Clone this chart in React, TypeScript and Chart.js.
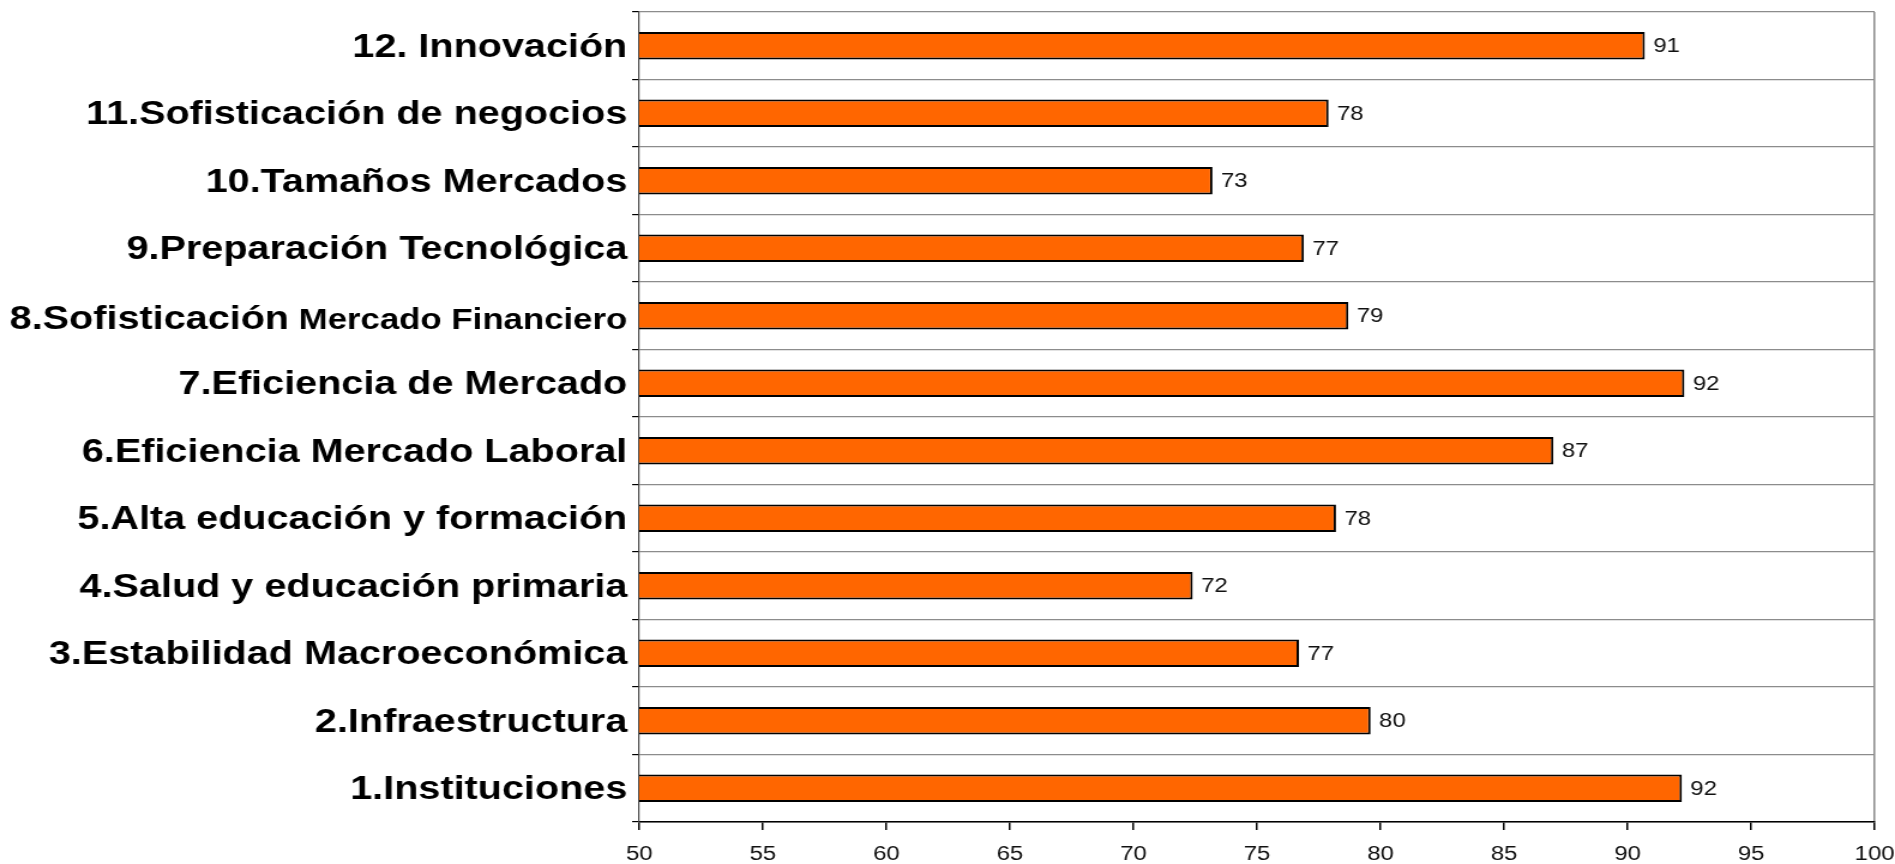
import React, { useEffect, useRef } from "react";
import { Chart, registerables } from "chart.js";

Chart.register(...registerables);

// ---- data ----
const categories = [
  "12. Innovación",
  "11.Sofisticación de negocios",
  "10.Tamaños Mercados",
  "9.Preparación Tecnológica",
  "8.Sofisticación Mercado Financiero",
  "7.Eficiencia de Mercado",
  "6.Eficiencia Mercado Laboral",
  "5.Alta educación y formación",
  "4.Salud y educación primaria",
  "3.Estabilidad Macroeconómica",
  "2.Infraestructura",
  "1.Instituciones",
];
const values = [90.7, 77.9, 73.2, 76.9, 78.7, 92.3, 87.0, 78.2, 72.4, 76.7, 79.6, 92.2];
const valueLabels = ["91", "78", "73", "77", "79", "92", "87", "78", "72", "77", "80", "92"];
const splitLabelIndex = 4;
const splitLabelParts = ["8.Sofisticación", " Mercado Financiero"];
const xMin = 50;
const xMax = 100;
const xStep = 5;

// ---- layout / style ----
const FONT = '"Liberation Sans", Arial, Helvetica, sans-serif';
const LOGICAL_W = 1580;
const CSS_W = 1895;
const H = 864;
const Y_TICK_LEN = 6;
const Y_TICK_PAD = 4;
const Y_LABEL_OFFSET = 2;
const Y_FONT_SIZE = 33;
const Y_SUB_FONT_SIZE = 29;

const valueLabelPlugin = {
  id: "valueLabels",
  afterDatasetsDraw(chart: any) {
    const ctx = chart.ctx;
    const meta = chart.getDatasetMeta(0);
    ctx.save();
    ctx.font = `20px ${FONT}`;
    ctx.fillStyle = "#111";
    ctx.textAlign = "left";
    ctx.textBaseline = "middle";
    meta.data.forEach((el: any, i: number) => {
      ctx.fillText(valueLabels[i], el.x + 7, el.y + 1);
    });
    ctx.restore();
  },
};

const splitLabelPlugin = {
  id: "splitLabel",
  afterDraw(chart: any) {
    const scale = chart.scales.y;
    const ctx = chart.ctx;
    const xRight = scale.right - Y_TICK_LEN - Y_TICK_PAD;
    const y = scale.getPixelForTick(splitLabelIndex) + Y_LABEL_OFFSET;
    const base = y + 0.3465 * Y_FONT_SIZE;
    ctx.save();
    ctx.fillStyle = "#000";
    ctx.textBaseline = "alphabetic";
    ctx.textAlign = "right";
    ctx.font = `bold ${Y_SUB_FONT_SIZE}px ${FONT}`;
    ctx.fillText(splitLabelParts[1], xRight, base);
    const w = ctx.measureText(splitLabelParts[1]).width;
    ctx.font = `bold ${Y_FONT_SIZE}px ${FONT}`;
    ctx.fillText(splitLabelParts[0], xRight - w, base);
    ctx.restore();
  },
};

export default function App() {
  const ref = useRef<HTMLCanvasElement>(null);

  useEffect(() => {
    if (!ref.current) return;
    const chart = new Chart(ref.current, {
      type: "bar",
      data: {
        labels: categories,
        datasets: [
          {
            data: values,
            backgroundColor: "#FF6600",
            borderColor: "#000",
            borderWidth: 2,
            borderSkipped: false,
            barPercentage: 0.41,
            categoryPercentage: 1,
          },
        ],
      },
      options: {
        indexAxis: "y",
        responsive: false,
        animation: false,
        devicePixelRatio: 1,
        layout: { padding: { top: 12, right: 17, bottom: 0, left: 0 } },
        plugins: {
          legend: { display: false },
          tooltip: { enabled: false },
          title: { display: false },
        },
        scales: {
          x: {
            type: "linear",
            min: xMin,
            max: xMax,
            ticks: {
              stepSize: xStep,
              color: "#111",
              font: { family: FONT, size: 20 },
              padding: 12,
              maxRotation: 0,
              autoSkip: false,
            },
            grid: {
              color: (c: any) => (c.tick && c.tick.value === xMax ? "#8c8c8c" : "rgba(0,0,0,0)"),
              lineWidth: 1.5,
              tickColor: "#000",
              tickLength: 8,
              drawTicks: true,
            },
            border: { color: "#000", width: 1.5 },
            afterFit: (s: any) => {
              s.height = 42;
              s.paddingLeft = 0;
              s.paddingRight = 0;
            },
          },
          y: {
            type: "category",
            offset: true,
            ticks: {
              color: "#000",
              font: { family: FONT, size: Y_FONT_SIZE, weight: "bold" },
              padding: Y_TICK_PAD,
              labelOffset: Y_LABEL_OFFSET,
              autoSkip: false,
              callback: (_v: any, i: number) => (i === splitLabelIndex ? "" : categories[i]),
            },
            grid: {
              offset: true,
              color: "#8c8c8c",
              lineWidth: 1.2,
              tickColor: "#000",
              tickLength: Y_TICK_LEN,
            },
            border: { color: "#444", width: 1.2 },
            afterFit: (s: any) => {
              s.width = 533;
              s.paddingTop = 0;
              s.paddingBottom = 0;
            },
          },
        },
      } as any,
      plugins: [valueLabelPlugin, splitLabelPlugin],
    });
    return () => chart.destroy();
  }, []);

  return (
    <div
      style={{
        position: "fixed",
        left: 0,
        top: 0,
        width: CSS_W,
        height: H,
        background: "#fff",
        overflow: "hidden",
      }}
    >
      <canvas
        ref={ref}
        width={LOGICAL_W}
        height={H}
        style={{ width: CSS_W + "px", height: H + "px", display: "block" }}
      />
    </div>
  );
}
